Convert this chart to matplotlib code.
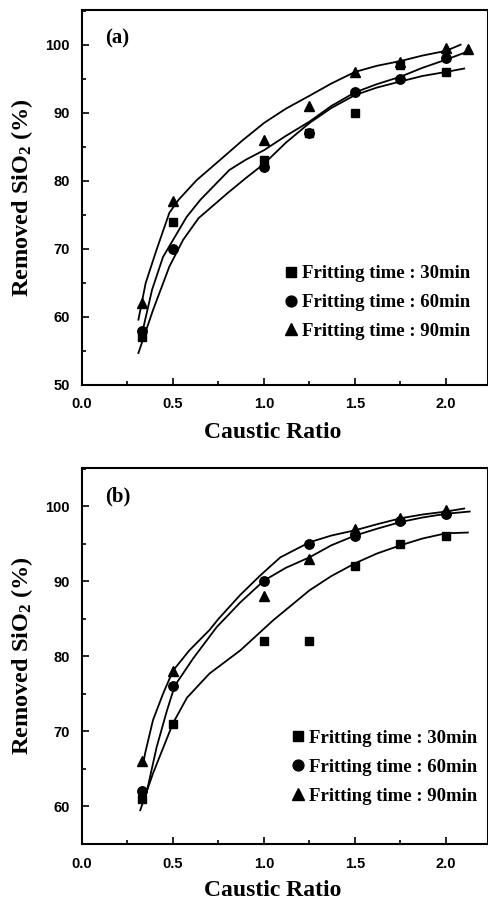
import matplotlib
matplotlib.use("Agg")
import matplotlib.pyplot as plt
from matplotlib.ticker import MultipleLocator, FormatStrFormatter

plt.rcParams['mathtext.fontset'] = 'custom'
plt.rcParams['mathtext.rm'] = 'Liberation Serif:bold'
plt.rcParams['mathtext.it'] = 'Liberation Serif:bold:italic'
plt.rcParams['mathtext.bf'] = 'Liberation Serif:bold'

# ---------------- data: panel (a) ----------------
ratio_a = [0.33, 0.5, 1.0, 1.25, 1.5, 1.75, 2.0]
a30 = [57, 74, 83, 87, 90, 97, 96]
a60 = [58, 70, 82, 87, 93, 95, 98]
ratio_a90 = [0.33, 0.5, 1.0, 1.25, 1.5, 1.75, 2.0, 2.12]
a90 = [62, 77, 86, 91, 96, 97.5, 99.5, 99.3]

# fitted curves (a)
fit_a_top_x = [0.31, 0.35, 0.41, 0.48, 0.53, 0.63, 0.76, 0.88, 1.0, 1.12, 1.25, 1.37, 1.5, 1.62, 1.75, 1.87, 2.0, 2.08]
fit_a_top_y = [59.6, 65, 69.9, 75.3, 77.2, 80.1, 83.1, 85.9, 88.5, 90.6, 92.5, 94.3, 96, 96.9, 97.6, 98.4, 99.1, 100]
fit_a_mid_x = [0.33, 0.385, 0.445, 0.5, 0.575, 0.65, 0.81, 0.9, 1.0, 1.12, 1.25, 1.37, 1.5, 1.62, 1.75, 1.87, 2.0, 2.12]
fit_a_mid_y = [57.6, 64, 68.8, 71.3, 74.7, 77.2, 81.6, 83.1, 84.5, 86.6, 88.7, 91.0, 93, 94.2, 95.3, 96.6, 97.8, 99]
fit_a_low_x = [0.31, 0.39, 0.48, 0.555, 0.64, 0.8, 0.9, 1.0, 1.12, 1.25, 1.37, 1.5, 1.62, 1.75, 1.87, 2.0, 2.1]
fit_a_low_y = [54.7, 61, 67.4, 71.3, 74.5, 78.2, 80.4, 82.5, 85.6, 88.5, 90.7, 92.6, 93.7, 94.6, 95.4, 96, 96.5]

# ---------------- data: panel (b) ----------------
ratio_b = [0.33, 0.5, 1.0, 1.25, 1.5, 1.75, 2.0]
b30 = [61, 71, 82, 82, 92, 95, 96]
b60 = [62, 76, 90, 95, 96, 98, 99]
b90 = [66, 78, 88, 93, 97, 98.5, 99.5]

fit_b_top_x = [0.335, 0.346, 0.39, 0.445, 0.5, 0.59, 0.70, 0.75, 0.87, 0.98, 1.09, 1.25, 1.37, 1.5, 1.62, 1.75, 1.87, 2.0, 2.1]
fit_b_top_y = [65.5, 67, 71.5, 75, 78.1, 80.8, 83.5, 85, 88.2, 90.8, 93.2, 95.2, 96.1, 96.8, 97.6, 98.4, 98.9, 99.3, 99.7]
fit_b_mid_x = [0.335, 0.357, 0.41, 0.467, 0.51, 0.61, 0.74, 0.87, 1.0, 1.12, 1.25, 1.37, 1.5, 1.62, 1.75, 1.87, 2.0, 2.13]
fit_b_mid_y = [60.5, 62.1, 67.9, 72.8, 76.1, 79.7, 83.9, 87.2, 90.1, 91.8, 93.2, 94.8, 96.1, 97.0, 97.9, 98.5, 99.0, 99.3]
fit_b_low_x = [0.32, 0.39, 0.5, 0.577, 0.70, 0.87, 1.05, 1.25, 1.37, 1.5, 1.62, 1.75, 1.87, 2.0, 2.12]
fit_b_low_y = [59.5, 64.4, 71.1, 74.5, 77.7, 80.8, 84.8, 88.8, 90.7, 92.4, 93.7, 94.8, 95.7, 96.4, 96.5]

labels = ["Fritting time : 30min", "Fritting time : 60min", "Fritting time : 90min"]

serif_bold = dict(family='Liberation Serif', weight='bold')
tick_font = dict(family='Liberation Sans', weight='bold', size=10.5)

fig = plt.figure(figsize=(4.89, 9.01), dpi=100)
W, H = 489, 901
ax_a = fig.add_axes([82 / W, 1 - 385 / H, (488 - 82) / W, 375 / H])
ax_b = fig.add_axes([82 / W, 1 - 844 / H, (488 - 82) / W, 376 / H])


def style(ax, ylo, yhi):
    ax.set_xlim(0, (488 - 82) / 182)
    ax.set_ylim(ylo, yhi)
    ax.xaxis.set_major_locator(MultipleLocator(0.5))
    ax.xaxis.set_minor_locator(MultipleLocator(0.25))
    ax.yaxis.set_major_locator(MultipleLocator(10))
    ax.yaxis.set_minor_locator(MultipleLocator(5))
    ax.xaxis.set_major_formatter(FormatStrFormatter('%.1f'))
    ax.yaxis.set_major_formatter(FormatStrFormatter('%d'))
    ax.tick_params(which='both', direction='in', top=False, right=False, width=1.2)
    ax.tick_params(which='major', length=5)
    ax.tick_params(axis='y', which='major', pad=9)
    ax.tick_params(axis='x', which='major', pad=9)
    ax.tick_params(which='minor', length=3)
    for s in ax.spines.values():
        s.set_linewidth(1.5)
    for lab in ax.get_xticklabels() + ax.get_yticklabels():
        lab.set_fontfamily(tick_font['family'])
        lab.set_fontweight(tick_font['weight'])
        lab.set_fontsize(tick_font['size'])


def draw(ax, xs, ys30, ys60, xs90, ys90, curves, tag, leg_anchor, ylab_x, xlab_y):
    for cx, cy in curves:
        ax.plot(cx, cy, color='black', lw=1.3, solid_joinstyle='round')
    h1, = ax.plot(xs, ys30, ls='none', marker='s', ms=6.3, color='black', label=labels[0])
    h2, = ax.plot(xs, ys60, ls='none', marker='o', ms=6.8, color='black', label=labels[1])
    h3, = ax.plot(xs90, ys90, ls='none', marker='^', ms=7, color='black', label=labels[2])
    ax.legend(handles=[h1, h2, h3], loc='lower right', bbox_to_anchor=leg_anchor,
              frameon=False, prop=dict(family='Liberation Serif', weight='bold', size=13.5),
              handletextpad=0.15, labelspacing=0.62, handlelength=0.9, borderaxespad=0,
              borderpad=0, markerscale=1.15)
    ax.text(0.058, 0.95, tag, transform=ax.transAxes, ha='left', va='top', fontsize=15, **serif_bold)
    ax.set_ylabel('Removed SiO$_2$ (%)', fontsize=17.5, **serif_bold)
    ax.set_xlabel('Caustic Ratio', fontsize=17, **serif_bold)
    ax.yaxis.set_label_coords(ylab_x, 0.5)
    ax.xaxis.set_label_coords(0.47, xlab_y)


draw(ax_a, ratio_a, a30, a60, ratio_a90, a90,
     [(fit_a_top_x, fit_a_top_y), (fit_a_mid_x, fit_a_mid_y), (fit_a_low_x, fit_a_low_y)],
     '(a)', (0.956, 0.12), -0.115, -0.1)
style(ax_a, 50, 105.1)

draw(ax_b, ratio_b, b30, b60, ratio_b, b90,
     [(fit_b_top_x, fit_b_top_y), (fit_b_mid_x, fit_b_mid_y), (fit_b_low_x, fit_b_low_y)],
     '(b)', (0.973, 0.105), -0.115, -0.095)
style(ax_b, 55, 105.1)

fig.savefig('out.png', dpi=100)
